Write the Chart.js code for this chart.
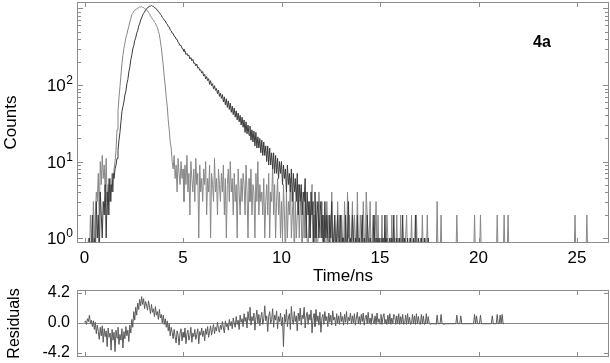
<!DOCTYPE html>
<html>
<head>
<meta charset="utf-8">
<script src="https://cdn.jsdelivr.net/npm/chart.js@4.4.1/dist/chart.umd.min.js"></script>
<style>
  body { margin: 0; background: #fff; }
  #wrap { position: relative; width: 610px; height: 363px; }
  canvas { position: absolute; left: 0; top: 0; }
</style>
</head>
<body>
<div id="wrap">
  <canvas id="decayChart" width="610" height="363"></canvas>
  <canvas id="residChart" width="610" height="363"></canvas>
</div>
<script>
// channel timing (ns) - one value per channel below, 20 channels per row = 1 ns
const channelStart = 0;
const channelWidth = 0.05;

// instrument response (lamp) counts
const irfCounts = [
  0, 0, 0, 0, 1, 0, 2, 1, 0, 3, 1, 2, 4, 3, 7, 2, 10, 5, 12, 6,
  9, 4, 11, 3, 5, 2, 6, 3, 7, 4, 8, 10, 14, 26, 45, 68, 95, 135, 190, 245,
  300, 352, 415, 460, 526, 585, 668, 735, 826, 862, 918, 940, 978, 985, 1018, 1024, 1047, 1050, 1058, 1030,
  1024, 996, 985, 950, 936, 884, 856, 800, 768, 724, 706, 664, 646, 594, 566, 503, 455, 376, 305, 232,
  178, 126, 97, 68, 53, 35, 26, 18, 15, 10, 8, 12, 6, 9, 4, 11, 7, 5, 10, 6,
  8, 3, 9, 5, 12, 4, 7, 2, 10, 6, 4, 8, 3, 11, 5, 7, 1, 9, 4, 6,
  3, 8, 5, 10, 2, 6, 4, 9, 1, 7, 5, 3, 11, 4, 6, 2, 8, 5, 3, 7,
  4, 9, 2, 6, 1, 5, 8, 3, 10, 4, 6, 2, 7, 3, 5, 1, 8, 4, 2, 6,
  3, 7, 5, 2, 9, 4, 1, 6, 3, 8, 2, 5, 4, 1, 7, 3, 10, 2, 5, 3,
  4, 2, 6, 1, 3, 5, 2, 7, 1, 4, 3, 9, 2, 5, 1, 3, 6, 2, 4, 1,
  3, 1, 5, 2, 0, 4, 1, 3, 2, 6, 1, 2, 4, 0, 3, 1, 2, 5, 1, 3,
  2, 0, 3, 1, 4, 2, 1, 0, 3, 1, 2, 5, 0, 2, 1, 3, 0, 1, 4, 2,
  1, 3, 0, 2, 1, 0, 3, 1, 2, 0, 1, 4, 1, 0, 2, 1, 0, 3, 1, 2,
  0, 2, 1, 0, 3, 1, 0, 4, 1, 2, 0, 1, 3, 0, 2, 1, 0, 4, 1, 0,
  2, 1, 0, 3, 1, 0, 4, 2, 0, 1, 3, 0, 1, 2, 0, 1, 3, 0, 2, 0,
  1, 0, 2, 0, 1, 0, 0, 2, 1, 0, 1, 0, 2, 0, 0, 1, 0, 2, 0, 1,
  0, 2, 0, 1, 0, 0, 1, 2, 0, 0, 1, 0, 2, 0, 1, 0, 0, 2, 0, 1,
  0, 1, 0, 2, 0, 0, 1, 0, 2, 0, 0, 0, 0, 0, 0, 0, 0, 0, 3, 0,
  0, 0, 2, 0, 0, 0, 0, 0, 0, 0, 0, 0, 0, 0, 0, 0, 0, 0, 2, 0,
  0, 0, 0, 0, 0, 0, 0, 0, 0, 0, 0, 0, 0, 0, 0, 0, 2, 0, 0, 0,
  0, 0, 2, 0, 0, 0, 0, 0, 0, 0, 0, 0, 0, 0, 0, 0, 0, 0, 0, 2,
  0, 0, 0, 0, 0, 0, 2, 0, 0, 0, 2, 0, 0, 0, 0, 0, 0, 0, 0, 0,
  0, 0, 0, 0, 0, 0, 0, 0, 0, 0, 0, 0, 0, 0, 0, 0, 0, 0, 0, 0,
  0, 0, 0, 0, 0, 0, 0, 0, 0, 0, 0, 0, 0, 0, 0, 0, 0, 0, 0, 0,
  0, 0, 0, 0, 0, 0, 0, 0, 0, 0, 0, 0, 0, 0, 0, 0, 0, 0, 2, 0,
  0, 0, 0, 0, 0, 0, 0, 0, 0, 0, 2, 0, 0, 0, 0, 0, 0, 0, 0, 0,
  0, 0, 0, 0, 0, 0, 0, 0, 0, 0, 0
];

// sample 4a decay counts
const decayCounts = [
  0, 0, 0, 0, 0, 1, 0, 0, 2, 0, 1, 0, 3, 1, 2, 0, 4, 2, 1, 3,
  2, 5, 1, 4, 2, 6, 3, 5, 4, 7, 6, 8, 9, 11, 14, 19, 24, 33, 45, 52,
  60, 74, 83, 104, 118, 148, 171, 214, 246, 295, 326, 380, 415, 476, 514, 588, 633, 706, 752, 818,
  866, 898, 958, 978, 1030, 1038, 1080, 1072, 1094, 1068, 1066, 1028, 1018, 972, 958, 906, 888, 838, 818, 762,
  742, 700, 688, 640, 624, 582, 574, 526, 512, 476, 472, 434, 428, 398, 394, 360, 352, 328, 330, 300,
  296, 274, 281, 250, 258, 240, 246, 219, 228, 207, 216, 192, 194, 178, 188, 166, 170, 155, 158, 143,
  150, 131, 138, 120, 129, 114, 121, 102, 114, 98, 104, 89, 98, 85, 90, 77, 86, 71, 78, 67,
  75, 60, 70, 55, 66, 51, 62, 48, 58, 44, 53, 41, 50, 38, 46, 35, 43, 33, 40, 30,
  38, 28, 35, 24, 33, 23, 30, 22, 29, 19, 26, 18, 25, 16, 24, 15, 21, 15, 20, 13,
  19, 12, 18, 12, 16, 10, 16, 9, 15, 9, 13, 8, 13, 7, 12, 7, 11, 6, 10, 7,
  10, 5, 9, 6, 8, 4, 9, 5, 7, 4, 8, 3, 7, 4, 6, 3, 7, 2, 5, 3,
  5, 2, 4, 3, 6, 1, 4, 2, 3, 1, 4, 2, 3, 0, 4, 1, 2, 3, 1, 2,
  3, 1, 2, 0, 3, 1, 2, 1, 0, 2, 1, 3, 0, 1, 2, 0, 1, 2, 0, 1,
  2, 0, 1, 1, 0, 2, 0, 1, 3, 0, 1, 0, 2, 1, 0, 1, 0, 2, 0, 1,
  0, 1, 2, 0, 1, 0, 0, 2, 1, 0, 1, 0, 0, 1, 2, 0, 1, 0, 1, 0,
  1, 0, 0, 1, 0, 2, 0, 1, 0, 0, 1, 0, 1, 0, 2, 0, 0, 1, 0, 0,
  1, 0, 0, 2, 0, 1, 0, 0, 1, 0, 0, 1, 0, 0, 1, 0, 2, 0, 0, 1,
  0, 0, 1, 0, 0, 1, 0, 0, 0, 1, 0, 0, 0, 0, 0, 0, 0, 0, 0, 0,
  0, 0, 0, 0, 0, 0, 0, 0, 0, 0, 0, 0, 0, 0, 0, 0, 0, 0, 0, 0,
  0, 0, 0, 0, 0, 0, 0, 0, 0, 0, 0, 0, 0, 0, 0, 0, 0, 0, 0, 0,
  0, 0, 0, 0, 0, 0, 0, 0, 0, 0, 0, 0, 0, 0, 0, 0, 0, 0, 0, 0,
  0, 0, 0, 0, 0, 0, 0, 0, 0, 0, 0, 0, 0, 0, 0, 0, 0, 0, 0, 0,
  0, 0, 0, 0, 0, 0, 0, 0, 0, 0, 0, 0, 0, 0, 0, 0, 0, 0, 0, 0,
  0, 0, 0, 0, 0, 0, 0, 0, 0, 0, 0, 0, 0, 0, 0, 0, 0, 0, 0, 0,
  0, 0, 0, 0, 0, 0, 0, 0, 0, 0, 0, 0, 0, 0, 0, 0, 0, 0, 0, 0,
  0, 0, 0, 0, 0, 0, 0, 0, 0, 0, 0, 0, 0, 0, 0, 0, 0, 0, 0, 0,
  0, 0, 0, 0, 0, 0, 0, 0, 0, 0, 0
];

// weighted residuals of the fit (0 - 21.3 ns)
const residuals = [
  0.1, 0.3, -0.2, 0.6, 0.2, 1.1, -0.1, 0.4, -0.5, 0.3, -0.9, 0.1, -1.5, -0.3, -1.2, -2.3, -0.6, -1.8, -0.4, -2.7,
  -0.8, -1.9, -1.1, -3.3, -0.7, -2.0, -1.4, -3.8, -0.9, -2.4, -1.3, -4.0, -1.0, -2.1, -0.6, -3.0, -1.6, -2.4, -0.8, -3.5,
  -1.2, -2.2, -0.5, -1.8, -1.0, -2.6, -0.3, -1.4, 0.5, -0.6, 1.6, 0.4, 2.2, 1.1, 2.8, 1.9, 3.3, 2.4, 3.7, 2.6,
  3.4, 2.0, 3.0, 2.5, 1.8, 3.1, 2.2, 1.3, 2.6, 1.5, 2.0, 0.9, 2.3, 1.1, 1.6, 0.5, 1.9, 0.7, 1.2, 0.0,
  1.1, -0.2, 0.6, -0.6, 0.3, -1.1, -0.1, -1.8, -0.6, -1.3, -2.2, -0.9, -1.9, -2.8, -1.1, -1.7, -3.1, -1.4, -0.8, -2.5,
  -1.3, -2.0, -0.7, -2.9, -1.5, -1.0, -2.4, -1.8, -0.6, -2.7, -1.4, -1.9, -0.9, -2.3, -1.6, -0.8, -2.9, -1.2, -1.7, -0.7,
  -1.9, -1.1, -2.5, -0.8, -1.6, -0.5, -2.0, -1.2, -0.4, -1.7, -0.9, -0.2, -1.5, -0.6, -1.1, 0.1, -0.8, -1.3, -0.3, -0.9,
  0.2, -0.7, -1.4, 0.3, -0.5, -0.1, -1.0, 0.5, -0.4, 0.2, -0.8, 0.7, 0.0, -0.6, 0.9, -0.2, 0.4, -0.9, 1.1, 0.1,
  0.6, -0.5, 1.3, 0.2, 0.8, -0.7, 1.6, 0.4, 2.2, -0.3, 0.9, 0.3, 1.4, -1.0, 0.7, 1.8, 0.0, 1.2, -0.4, 0.8,
  1.5, -0.2, 0.6, 2.4, 0.3, 1.0, -1.2, 0.9, 1.6, -0.1, 0.5, 2.0, -0.6, 1.1, 0.4, 1.7, -0.8, 0.9, 0.2, 1.4,
  -0.4, 0.8, -3.3, 1.2, 0.1, 1.9, -0.5, 0.7, 1.3, -0.9, 2.3, 0.5, -0.2, 1.6, 0.2, 1.0, -1.1, 1.4, 0.3, 2.1,
  -0.3, 1.1, 0.6, 2.2, -0.7, 0.9, 1.5, -0.2, 1.2, 0.4, 1.8, -1.4, 0.6, 1.3, -0.5, 1.9, 0.2, 1.0, -0.3, 1.5,
  -1.3, 0.7, 1.2, -0.2, 1.6, 0.3, 0.9, -0.5, 1.4, 0.1, 1.1, -0.3, 1.7, 0.4, 0.8, -0.4, 1.3, 0.0, 1.0, -0.2,
  1.5, 0.2, 0.9, -0.3, 1.2, 0.1, 1.6, -0.2, 0.8, 0.3, 1.4, -0.1, 1.0, 0.0, 1.3, -0.3, 0.7, 1.5, -0.1, 0.9,
  -0.2, 1.2, 0.2, 1.4, -0.3, 0.8, 1.1, -0.1, 1.5, 0.0, 0.7, -0.2, 1.3, 0.3, -0.1, 1.0, -0.2, 1.4, 0.1, 0.6,
  -0.1, 1.2, -0.2, 0.8, 1.3, -0.1, 0.5, -0.2, 1.1, -0.1, 1.3, -0.2, 0.7, -0.1, 1.2, 0.9, -0.2, 1.0, -0.1, 1.3,
  -0.2, 0.9, -0.1, 1.2, -0.2, -0.1, 1.1, -0.2, 1.3, -0.1, 0.8, -0.2, -0.1, 1.2, -0.1, 1.0, -0.2, 1.3, -0.1, 0.9,
  -0.1, -0.2, 1.2, -0.1, 1.0, -0.2, -0.1, 1.3, -0.1, 0.9, -0.1, -0.2, -0.1, -0.1, -0.1, -0.1, -0.1, -0.2, 1.1, -0.1,
  -0.1, -0.1, 1.2, -0.1, -0.1, -0.2, -0.1, -0.1, -0.1, -0.1, -0.1, -0.1, -0.1, -0.1, -0.1, -0.1, -0.1, -0.1, 1.1, -0.1,
  -0.1, -0.1, 1.0, -0.1, -0.1, -0.1, -0.1, -0.1, -0.1, -0.1, -0.1, -0.1, -0.1, -0.1, -0.1, -0.1, 1.2, -0.1, 1.0, -0.1,
  -0.1, -0.1, 1.1, -0.1, -0.1, -0.1, -0.1, -0.1, -0.1, -0.1, -0.1, -0.1, -0.1, -0.1, 1.0, -0.1, -0.1, -0.1, -0.1, 1.2,
  -0.1, -0.1, 1.1, -0.1, 1.2, -0.1, -0.1
];

const timeTicks = [0, 5, 10, 15, 20, 25];
const countDecades = [1, 10, 100, 1000];
const countLabelExps = ['0', '1', '2'];
const residTicks = [4.2, 0, -4.2];
const residTickLabels = ['4.2', '0.0', '-4.2'];

const FONT = '"Liberation Sans", Arial, sans-serif';
const FRAME = '#8c8c8c';
const ZERO_FLOOR = 0.5; // empty channels drawn down to the axis

function chanTime(i) {
  return Math.round((channelStart + i * channelWidth) * 100) / 100;
}
function countPoints(arr) {
  return arr.map((v, i) => ({ x: chanTime(i), y: v > 0 ? v : ZERO_FLOOR }));
}
function residPoints(arr) {
  return arr.map((v, i) => ({ x: chanTime(i), y: v }));
}

function line(ctx, x1, y1, x2, y2) {
  ctx.beginPath();
  ctx.moveTo(x1, y1);
  ctx.lineTo(x2, y2);
  ctx.stroke();
}

function drawFrameAndXTicks(chart) {
  const ctx = chart.ctx, a = chart.chartArea, xs = chart.scales.x;
  ctx.strokeStyle = FRAME;
  ctx.lineWidth = 1;
  ctx.strokeRect(a.left + 0.5, a.top + 0.5, a.right - a.left - 1, a.bottom - a.top - 1);
  timeTicks.forEach(t => {
    const px = Math.round(xs.getPixelForValue(t)) + 0.5;
    line(ctx, px, a.bottom - 1, px, a.bottom - 5);
    line(ctx, px, a.top + 1, px, a.top + 5);
  });
}

const mainAxes = {
  id: 'mainAxes',
  afterDraw(chart) {
    const ctx = chart.ctx, a = chart.chartArea;
    const xs = chart.scales.x, ys = chart.scales.y;
    ctx.save();
    drawFrameAndXTicks(chart);
    // log ticks, major on decades, minor 2..9
    countDecades.forEach(d => {
      for (let m = 1; m <= 9; m++) {
        const v = d * m;
        if (v < ys.min || v > ys.max) continue;
        const py = Math.round(ys.getPixelForValue(v)) + 0.5;
        const len = m === 1 ? 5 : 3;
        line(ctx, a.left + 1, py, a.left + 1 + len, py);
        line(ctx, a.right - 1, py, a.right - 1 - len, py);
      }
    });
    ctx.fillStyle = '#000';
    ctx.textBaseline = 'alphabetic';
    // x tick labels
    ctx.font = '17px ' + FONT;
    ctx.textAlign = 'center';
    timeTicks.forEach(t => ctx.fillText(String(t), xs.getPixelForValue(t), 263));
    // y tick labels 10^n
    countLabelExps.forEach((e, i) => {
      const py = ys.getPixelForValue(countDecades[i]);
      const right = 73;
      ctx.font = '12px ' + FONT;
      const ew = ctx.measureText(e).width;
      ctx.textAlign = 'left';
      ctx.fillText(e, right - ew, py - 1);
      ctx.font = '17px ' + FONT;
      ctx.textAlign = 'right';
      ctx.fillText('10', right - ew - 0.5, py + 6);
    });
    // axis titles
    ctx.font = '17px ' + FONT;
    ctx.textAlign = 'center';
    ctx.fillText('Time/ns', (a.left + a.right) / 2, 281);
    ctx.save();
    ctx.translate(16, (a.top + a.bottom) / 2);
    ctx.rotate(-Math.PI / 2);
    ctx.fillText('Counts', 0, 0);
    ctx.restore();
    ctx.font = 'bold 16px ' + FONT;
    ctx.fillText('4a', 542, 47);
    ctx.restore();
  }
};

const residAxes = {
  id: 'residAxes',
  beforeDatasetsDraw(chart) {
    const ctx = chart.ctx, a = chart.chartArea, ys = chart.scales.y;
    const py = Math.round(ys.getPixelForValue(0)) + 0.5;
    ctx.save();
    ctx.strokeStyle = '#8a8a8a';
    ctx.lineWidth = 1;
    line(ctx, a.left, py, a.right, py);
    ctx.restore();
  },
  afterDraw(chart) {
    const ctx = chart.ctx, a = chart.chartArea, ys = chart.scales.y;
    ctx.save();
    drawFrameAndXTicks(chart);
    residTicks.forEach(v => {
      const py = Math.round(ys.getPixelForValue(v)) + 0.5;
      line(ctx, a.left + 1, py, a.left + 5, py);
      line(ctx, a.right - 1, py, a.right - 5, py);
    });
    ctx.fillStyle = '#000';
    ctx.font = '16px ' + FONT;
    ctx.textAlign = 'right';
    ctx.textBaseline = 'middle';
    residTicks.forEach((v, i) => ctx.fillText(residTickLabels[i], 70, ys.getPixelForValue(v)));
    ctx.textAlign = 'center';
    ctx.translate(15, (a.top + a.bottom) / 2);
    ctx.rotate(-Math.PI / 2);
    ctx.fillText('Residuals', 0, 0);
    ctx.restore();
  }
};

const common = {
  responsive: false,
  animation: false,
  devicePixelRatio: 1,
  events: [],
  elements: { point: { radius: 0 }, line: { tension: 0, borderWidth: 1 } },
  plugins: { legend: { display: false }, tooltip: { enabled: false } }
};

new Chart(document.getElementById('decayChart'), {
  type: 'line',
  data: {
    datasets: [
      { label: 'Decay 4a', data: countPoints(decayCounts), borderColor: '#3a3a3a', borderWidth: 1 },
      { label: 'IRF', data: countPoints(irfCounts), borderColor: '#878787', borderWidth: 1 }
    ]
  },
  options: Object.assign({}, common, {
    layout: { padding: { left: 77, top: 2, right: 1, bottom: 120 } },
    scales: {
      x: { type: 'linear', min: -0.381, max: 26.624, display: false },
      y: { type: 'logarithmic', min: 0.861, max: 1216, display: false }
    }
  }),
  plugins: [mainAxes]
});

new Chart(document.getElementById('residChart'), {
  type: 'line',
  data: {
    datasets: [
      { label: 'Residuals', data: residPoints(residuals), borderColor: '#5a5a5a', borderWidth: 1 }
    ]
  },
  options: Object.assign({}, common, {
    layout: { padding: { left: 77, top: 290, right: 1, bottom: 6 } },
    scales: {
      x: { type: 'linear', min: -0.381, max: 26.624, display: false },
      y: { type: 'linear', min: -4.76, max: 4.62, display: false }
    }
  }),
  plugins: [residAxes]
});
</script>
</body>
</html>
